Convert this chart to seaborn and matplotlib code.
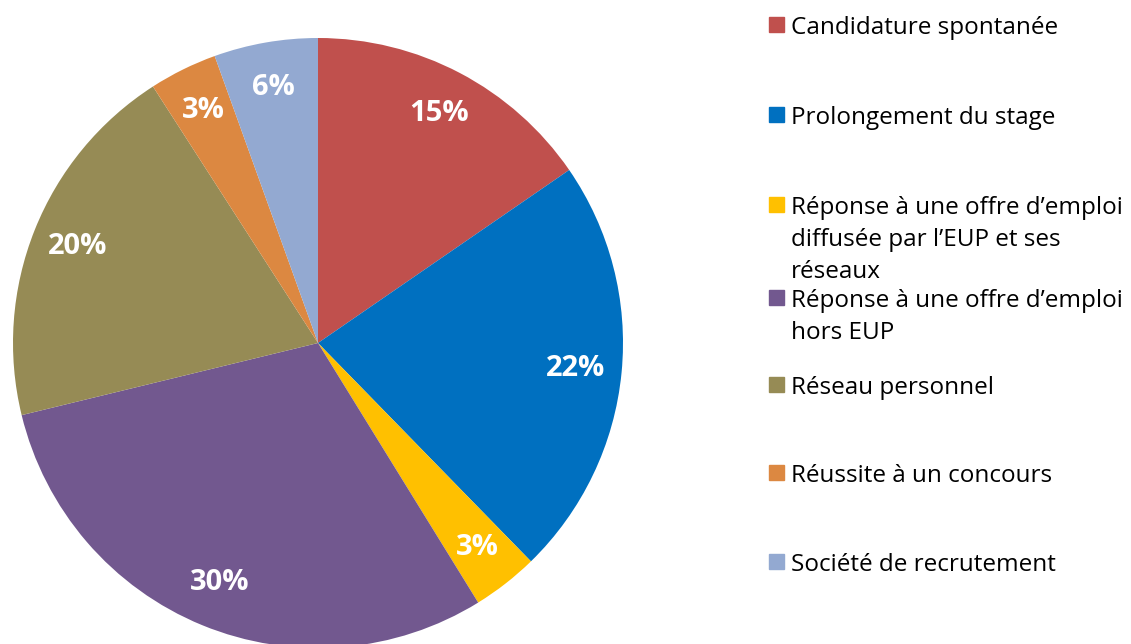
import numpy as np
import matplotlib
matplotlib.use("Agg")
import matplotlib.pyplot as plt
import matplotlib.patches as mpatches
import seaborn as sns

# data (clockwise from 12 o'clock)
categories = [
    "Candidature spontanée",
    "Prolongement du stage",
    "Réponse à une offre d\u2019emploi\ndiffusée par l\u2019EUP et ses\nréseaux",
    "Réponse à une offre d\u2019emploi\nhors EUP",
    "Réseau personnel",
    "Réussite à un concours",
    "Société de recrutement",
]
shares = [15.4, 22.3, 3.5, 30.0, 19.7, 3.6, 5.5]
pct_labels = ["15%", "22%", "3%", "30%", "20%", "3%", "6%"]
colors = ["#C0504D", "#0070C0", "#FFC000", "#72588F", "#968B55", "#DC8841", "#93A9D1"]

sns.set_theme(style="white")
plt.rcParams["font.family"] = ["Open Sans", "DejaVu Sans"]
palette = sns.color_palette(colors)

W, H = 1131, 644
fig = plt.figure(figsize=(W / 100, H / 100), dpi=100)

# pie: centre (318, 343) px, radius 305 px
cx, cy, r = 318, 343, 305
ax = fig.add_axes([(cx - r) / W, (H - cy - r) / H, 2 * r / W, 2 * r / H])
wedges, _ = ax.pie(shares, colors=palette, startangle=90, counterclock=False,
                   radius=1, wedgeprops=dict(linewidth=0))
ax.set_xlim(-1, 1)
ax.set_ylim(-1, 1)
ax.set_aspect("equal")
ax.axis("off")

for w, lab in zip(wedges, pct_labels):
    mid = np.deg2rad((w.theta1 + w.theta2) / 2)
    ax.text(0.85 * np.cos(mid), 0.85 * np.sin(mid), lab, ha="center", va="center",
            color="white", fontsize=21, fontweight="bold")

# legend drawn by hand so that the long entry spills over like the original
legend_y = [25, 115, 205, 298, 385, 473, 562]
for col, lab, y in zip(palette, categories, legend_y):
    fig.patches.append(mpatches.Rectangle((769 / W, 1 - (y + 7) / H), 15 / W, 15 / H,
                                          transform=fig.transFigure, color=col))
    fig.text(791 / W, 1 - (y - 9) / H, lab, ha="left", va="top", fontsize=17.5,
             color="#000000", linespacing=1.45)

fig.savefig("out.png", dpi=100)
